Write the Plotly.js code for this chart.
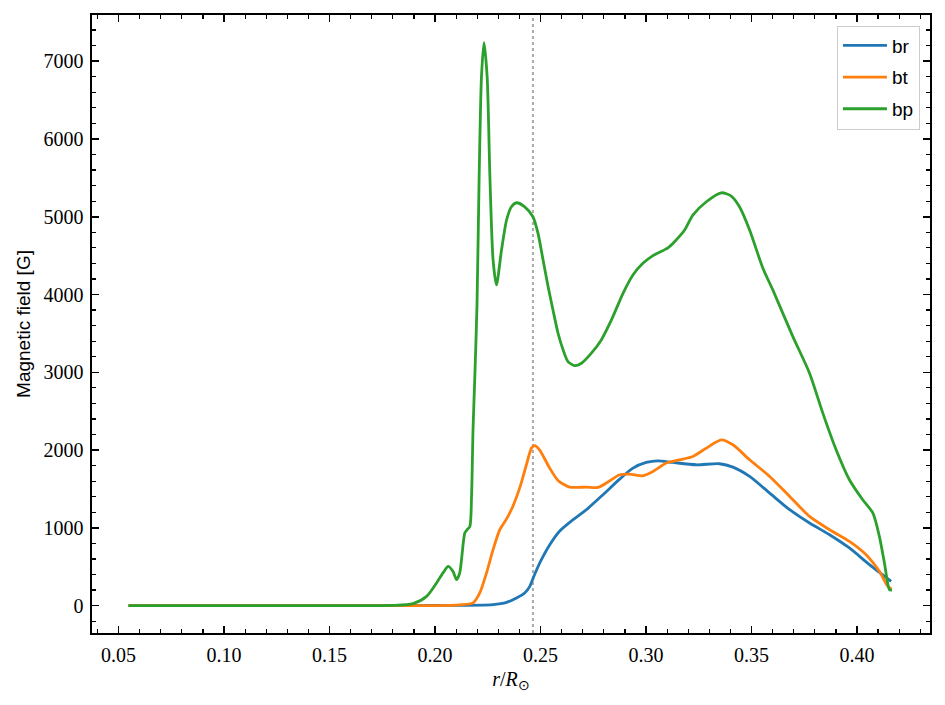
<!DOCTYPE html>
<html>
<head>
<meta charset="utf-8">
<script src="https://cdn.plot.ly/plotly-3.0.1.min.js"></script>
<style>html,body{margin:0;padding:0;background:#fff;}#chart{width:945px;height:705px;}</style>
</head>
<body>
<div id="chart"></div>
<script>
// ---- data ----
const seriesNames = ["br", "bt", "bp"];
const seriesColors = ["#1f77b4", "#ff7f0e", "#2ca02c"];

const brX = [0.0547, 0.15, 0.20, 0.2275, 0.2339, 0.2386, 0.2425, 0.2449, 0.2472, 0.2504, 0.2543, 0.2591, 0.2654, 0.2717, 0.2796, 0.2875, 0.2938, 0.3001, 0.3056, 0.3127, 0.3238, 0.3348, 0.3412, 0.3491, 0.3586, 0.3681, 0.3775, 0.3870, 0.3964, 0.4059, 0.4162];
const brY = [0, 0, 2, 13, 42, 99, 163, 248, 400, 590, 780, 960, 1105, 1233, 1426, 1627, 1768, 1841, 1862, 1841, 1811, 1824, 1781, 1661, 1447, 1233, 1062, 912, 741, 527, 312];

const btX = [0.0547, 0.15, 0.20, 0.2117, 0.2180, 0.2212, 0.2244, 0.2275, 0.2307, 0.2339, 0.2370, 0.2402, 0.2433, 0.2457, 0.2472, 0.2496, 0.2543, 0.2583, 0.2638, 0.2717, 0.2772, 0.2812, 0.2875, 0.2922, 0.2985, 0.3033, 0.3096, 0.3159, 0.3222, 0.3286, 0.3357, 0.3412, 0.3491, 0.3586, 0.3681, 0.3775, 0.3870, 0.3964, 0.4043, 0.4106, 0.4146, 0.4164];
const btY = [0, 0, 0, 10, 35, 163, 420, 719, 976, 1115, 1285, 1520, 1811, 2025, 2057, 2000, 1770, 1610, 1524, 1524, 1520, 1576, 1683, 1691, 1670, 1725, 1833, 1875, 1918, 2025, 2132, 2068, 1875, 1661, 1404, 1147, 976, 826, 655, 441, 248, 214];

const bpX = [0.0547, 0.10, 0.15, 0.18, 0.1896, 0.1960, 0.2007, 0.2040, 0.2062, 0.2085, 0.2102, 0.2117, 0.2141, 0.2152, 0.2165, 0.2173, 0.2180, 0.2188, 0.2199, 0.2209, 0.2220, 0.2232, 0.2247, 0.2260, 0.2275, 0.2291, 0.2315, 0.2339, 0.2362, 0.2386, 0.2425, 0.2464, 0.2488, 0.2512, 0.2536, 0.2559, 0.2583, 0.2607, 0.2630, 0.2662, 0.2694, 0.2741, 0.2788, 0.2836, 0.2891, 0.2938, 0.2985, 0.3033, 0.3104, 0.3135, 0.3183, 0.3222, 0.3286, 0.3357, 0.3404, 0.3443, 0.3491, 0.3554, 0.3601, 0.3696, 0.3775, 0.3838, 0.3901, 0.3964, 0.4027, 0.4075, 0.4106, 0.4130, 0.4154, 0.4166];
const bpY = [0, 0, 0, 2, 26, 119, 291, 430, 505, 440, 334, 420, 934, 976, 1018, 1404, 2260, 2900, 3880, 5514, 6798, 7240, 6798, 5514, 4444, 4123, 4572, 4958, 5128, 5180, 5128, 5000, 4787, 4444, 4101, 3802, 3502, 3288, 3138, 3086, 3117, 3246, 3416, 3673, 4016, 4251, 4401, 4500, 4600, 4679, 4829, 5022, 5193, 5308, 5266, 5128, 4829, 4337, 4059, 3459, 2989, 2475, 2004, 1618, 1361, 1191, 890, 548, 205, 200];

const markerLineX = [0.2464];

const xs = [brX, btX, bpX];
const ys = [brY, btY, bpY];

const traces = seriesNames.map((n, i) => ({
  x: xs[i], y: ys[i], name: n, type: "scatter", mode: "lines",
  line: {color: seriesColors[i], width: 2.8, shape: "spline", smoothing: 0.7},
  legendgroup: n
}));

const serif = "Liberation Serif, Times New Roman, serif";
const sans = "Liberation Sans, Arial, Helvetica, sans-serif";

const axisCommon = {
  showline: true, linecolor: "#000", linewidth: 1.6, mirror: "allticks",
  ticks: "inside", ticklen: 7, tickwidth: 1.5, tickcolor: "#000",
  showgrid: false, zeroline: false, ticklabelstandoff: 3,
  tickfont: {family: serif, size: 20, color: "#000"}
};

const layout = {
  width: 945, height: 705,
  margin: {l: 92, r: 15, t: 15, b: 72},
  paper_bgcolor: "#fff", plot_bgcolor: "#fff",
  showlegend: true,
  xaxis: Object.assign({}, axisCommon, {
    range: [0.0374, 0.4346], dtick: 0.05, tick0: 0, tickformat: ".2f",
    minor: {dtick: 0.01, ticks: "inside", ticklen: 4, tickwidth: 1.2, tickcolor: "#000"},
    title: {text: "<i>r</i>/<i>R</i><sub>⊙</sub>", font: {family: serif, size: 20, color: "#000"}, standoff: 7}
  }),
  yaxis: Object.assign({}, axisCommon, {
    range: [-352, 7594], dtick: 1000, tick0: 0,
    minor: {dtick: 200, ticks: "inside", ticklen: 4, tickwidth: 1.2, tickcolor: "#000"},
    title: {text: "Magnetic field [G]", font: {family: sans, size: 19, color: "#000"}, standoff: 8}
  }),
  legend: {
    x: 0.988, y: 0.983, xanchor: "right", yanchor: "top",
    bgcolor: "rgba(255,255,255,0.9)", bordercolor: "#cccccc", borderwidth: 1,
    font: {family: sans, size: 19, color: "#000"},
    itemwidth: 44, tracegroupgap: 4, traceorder: "grouped"
  },
  shapes: markerLineX.map(v => ({
    type: "line", xref: "x", yref: "paper", x0: v, x1: v, y0: 0, y1: 1,
    line: {color: "#aaaaaa", width: 2, dash: "dot"}, layer: "below"
  })),
  hovermode: false
};

Plotly.newPlot("chart", traces, layout, {displayModeBar: false, staticPlot: true});
</script>
</body>
</html>
